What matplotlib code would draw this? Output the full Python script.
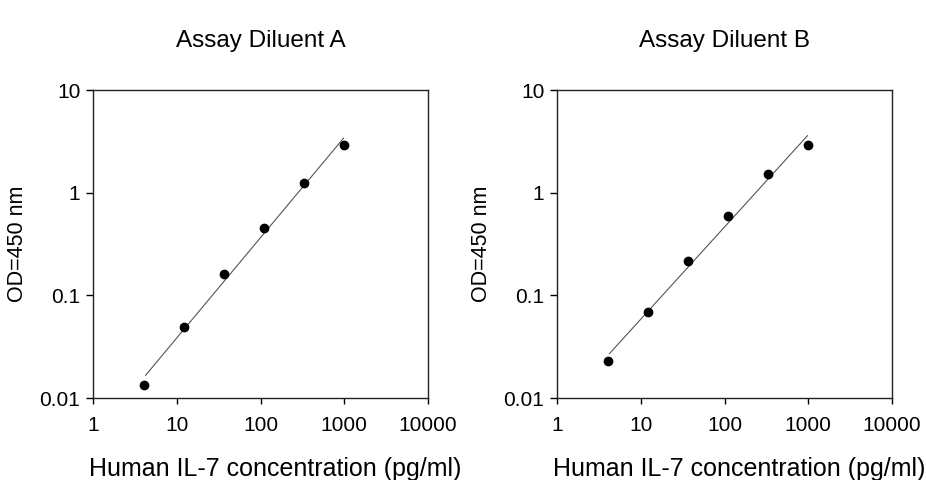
import numpy as np
import matplotlib.pyplot as plt

plt.rcParams["font.family"] = ["Liberation Sans", "DejaVu Sans"]

# standard concentrations (pg/ml), 3-fold dilution series
conc = [4.12, 12.35, 37.0, 111.1, 333.3, 1000.0]
# OD450 readings
od_a = [0.0135, 0.0489, 0.162, 0.455, 1.24, 2.89]
od_b = [0.0228, 0.069, 0.217, 0.594, 1.535, 2.89]

titles = ["Assay Diluent A", "Assay Diluent B"]
xlabel = "Human IL-7 concentration (pg/ml)"
ylabel = "OD=450 nm"
xticks = [1, 10, 100, 1000, 10000]
xticklabels = ["1", "10", "100", "1000", "10000"]
yticks = [0.01, 0.1, 1, 10]
yticklabels = ["0.01", "0.1", "1", "10"]

fig = plt.figure(figsize=(9.26, 4.8), dpi=100)
lefts = [93 / 926, 557 / 926]

for left, title, od in zip(lefts, titles, [od_a, od_b]):
    ax = fig.add_axes([left, 82 / 480, 335 / 926, 308 / 480])
    ax.set_xscale("log")
    ax.set_yscale("log")

    # log-log linear regression, drawn over the data range
    lx = np.log10(conc)
    ly = np.log10(od)
    k, b = np.polyfit(lx, ly, 1)
    xs = np.array([conc[0] * 1.03, conc[-1] * 0.98])
    ax.plot(xs, 10 ** (k * np.log10(xs) + b), color="#555555", lw=0.8)
    ax.plot(conc, od, "o", color="black", ms=6, mec="black")

    ax.set_xlim(1, 10000)
    ax.set_ylim(0.01, 10)
    ax.set_xticks(xticks)
    ax.set_xticklabels(xticklabels)
    ax.set_yticks(yticks)
    ax.set_yticklabels(yticklabels)
    ax.minorticks_off()
    ax.tick_params(axis="x", direction="out", length=4, width=1, pad=9, labelsize=15)
    ax.tick_params(axis="y", direction="out", length=5, width=1, pad=4, labelsize=15)
    for s in ax.spines.values():
        s.set_linewidth(1)
        s.set_color("#222222")

    ax.set_xlabel(xlabel, fontsize=18)
    ax.xaxis.set_label_coords(0.545, -0.19)
    ax.set_ylabel(ylabel, fontsize=15.5)
    ax.yaxis.set_label_coords(-0.195, 0.5)
    ax.set_title(title, fontsize=17.5, pad=31)

fig.savefig("out.png", dpi=100)
